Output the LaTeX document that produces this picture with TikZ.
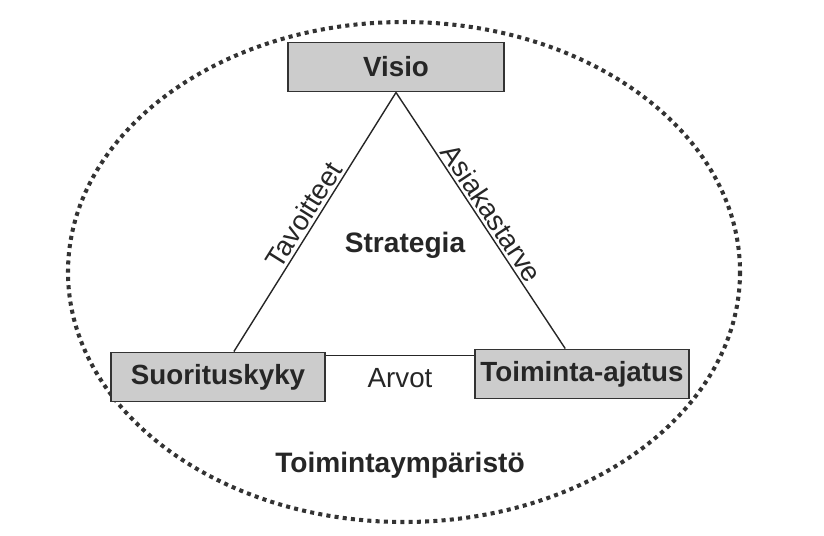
\documentclass[tikz,border=0pt]{standalone}
\usepackage{fontspec}
\setmainfont{Liberation Sans}
\usetikzlibrary{positioning}

\begin{document}
\begin{tikzpicture}[x=0.02cm, y=-0.02cm,
    every node/.style={font=\fontsize{15.8}{18}\selectfont, text=black!85},
    box/.style={draw=black!80, line width=1.1pt, fill=black!20, minimum width=4.28cm, minimum height=0.98cm, font=\fontsize{15.8}{18}\selectfont\bfseries},
    link/.style={draw=black!85, line width=0.8pt},
    linklabel/.style={midway, sloped, above=0pt, inner sep=1.5pt}]
    \useasboundingbox (0,0) rectangle (824,535);

    % Surrounding environment
    \draw[black!80, line width=2.3pt, dash pattern=on 2.3pt off 2.4pt] (404,272) ellipse [x radius=336, y radius=250];

    % Boxes
    \node[box, minimum width=4.32cm] (visio) at (396,67) {Visio};
    \node[box] (suoritus) at (218,377) {Suorituskyky};
    \node[box] (toiminta) at (582,374) {Toiminta-ajatus};

    % Triangle
    \draw[link] (suoritus) -- node[linklabel] {Tavoitteet} (visio.south);
    \draw[link] (visio.south) -- node[linklabel] {Asiakastarve} (toiminta);
    \draw[link] ([yshift=-0.08cm]suoritus.north east) -- ([yshift=-0.08cm]suoritus.north east -| toiminta.west);

    % Labels
    \node (arvot) at (400,378) {Arvot};
    \node[font=\fontsize{16}{18}\selectfont\bfseries] (strategia) at (405,245) {Strategia};
    \node[font=\fontsize{16}{18}\selectfont\bfseries] (ymparisto) at (400,465) {Toimintaympäristö};
\end{tikzpicture}
\end{document}
